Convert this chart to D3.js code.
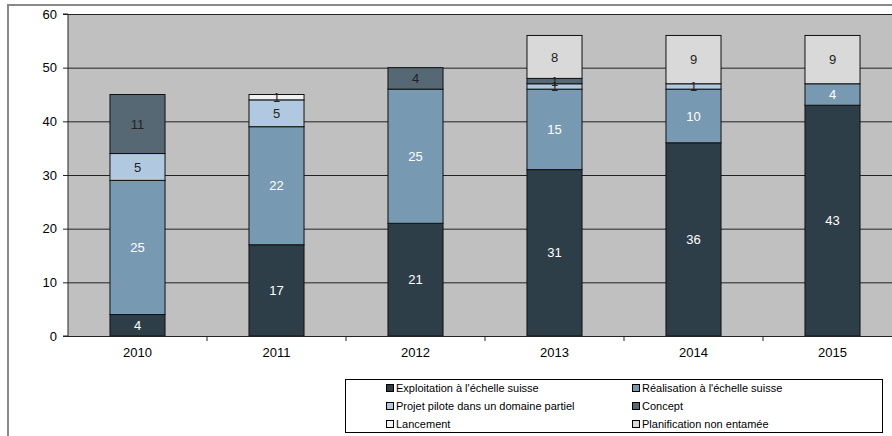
<!DOCTYPE html>
<html><head><meta charset="utf-8">
<script src="https://cdn.jsdelivr.net/npm/d3@7"></script>
<style>body{margin:0;background:#fff;}svg{display:block;font-family:"Liberation Sans",Arial,sans-serif;}</style>
</head><body>
<svg id="c" width="892" height="436"></svg>
<script>
const years = ["2010","2011","2012","2013","2014","2015"];
const seriesNames = ["Exploitation à l'échelle suisse","Réalisation à l'échelle suisse","Projet pilote dans un domaine partiel","Concept","Lancement","Planification non entamée"];
const exploitation = [4,17,21,31,36,43];
const realisation = [25,22,25,15,10,4];
const pilote = [5,5,0,1,1,0];
const concept = [11,0,4,1,0,0];
const lancement = [0,1,0,0,0,0];
const planification = [0,0,0,8,9,9];
const yTicks = [0,10,20,30,40,50,60];
const colors = ["#2e3e49","#7899b2","#b0c9e0","#566874","#f2f2f2","#d9d9d9"];
const labelColors = ["#fff","#fff","#222","#222","#222","#222"];

const svg = d3.select("#c");
// outer frame
svg.append("rect").attr("x",8).attr("y",5).attr("width",900).attr("height",440)
  .attr("fill","#fff").attr("stroke","#888").attr("stroke-width",2);

const pLeft=68, pTop=14, pBottom=336;
const x = d3.scaleBand().domain(years).range([pLeft,pLeft+139*6]).paddingInner(0.604).paddingOuter(0.302);
const y = d3.scaleLinear().domain([0,60]).range([pBottom,pTop]);

svg.append("rect").attr("x",pLeft).attr("y",pTop).attr("width",892-pLeft).attr("height",pBottom-pTop).attr("fill","#c0c0c0");
svg.append("g").selectAll("line").data(yTicks.slice(1)).join("line")
  .attr("x1",pLeft).attr("x2",892).attr("y1",d=>y(d)+0.5).attr("y2",d=>y(d)+0.5)
  .attr("stroke","#222").attr("stroke-width",1);

const rows = years.map((yr,i)=>({year:yr, v:[exploitation[i],realisation[i],pilote[i],concept[i],lancement[i],planification[i]]}));
const stackData = d3.stack().keys(d3.range(6)).value((d,k)=>d.v[k])(rows);

const g = svg.append("g");
stackData.forEach((layer,k)=>{
  layer.forEach((seg,i)=>{
    const val = seg[1]-seg[0];
    if(val<=0) return;
    const yr = years[i];
    g.append("rect").attr("x",x(yr)).attr("width",x.bandwidth())
      .attr("y",y(seg[1])).attr("height",y(seg[0])-y(seg[1]))
      .attr("fill",colors[k]).attr("stroke","#111").attr("stroke-width",1);
  });
});
stackData.forEach((layer,k)=>{
  layer.forEach((seg,i)=>{
    const val = seg[1]-seg[0];
    if(val<=0) return;
    const yr = years[i];
    g.append("text").attr("x",x(yr)+x.bandwidth()/2).attr("y",(y(seg[0])+y(seg[1]))/2)
      .attr("dy","0.36em").attr("text-anchor","middle").attr("font-size",13)
      .attr("fill",labelColors[k]).text(val);
  });
});

// y axis
const ya = svg.append("g").attr("transform",`translate(${pLeft},0)`)
  .call(d3.axisLeft(y).tickValues(yTicks).tickSize(5).tickPadding(6));
ya.selectAll("text").attr("font-size",13).attr("fill","#000").attr("font-family","Liberation Sans, Arial, sans-serif");
ya.selectAll("line,path").attr("stroke","#222");
ya.select(".domain").attr("d",`M-5,${pBottom}H0V${pTop}H-5`);

// x axis
const xa = svg.append("g").attr("transform",`translate(0,${pBottom})`);
xa.append("line").attr("x1",pLeft).attr("x2",892).attr("y1",0.5).attr("y2",0.5).attr("stroke","#222");
xa.selectAll(".tk").data(years.slice(1)).join("line").attr("class","tk")
  .attr("x1",d=>x(d)-x.step()*0.302).attr("x2",d=>x(d)-x.step()*0.302).attr("y1",0).attr("y2",5).attr("stroke","#222");
xa.selectAll(".lb").data(years).join("text").attr("class","lb")
  .attr("x",d=>x(d)+x.bandwidth()/2).attr("y",21).attr("text-anchor","middle")
  .attr("font-size",13).attr("fill","#000").text(d=>d);

// legend
const lg = svg.append("g");
lg.append("rect").attr("x",345.5).attr("y",379.5).attr("width",537).attr("height",53).attr("fill","#fff").attr("stroke","#000");
const colX=[386,632], rowY=[388,406,424];
seriesNames.forEach((n,k)=>{
  const cx = colX[k%2], cy=rowY[Math.floor(k/2)];
  lg.append("rect").attr("x",cx+0.5).attr("y",cy-3.5).attr("width",7).attr("height",7).attr("fill",colors[k]).attr("stroke","#000");
  lg.append("text").attr("x",cx+10).attr("y",cy).attr("dy","0.35em").attr("font-size",11).attr("fill","#000").text(n);
});
</script>
</body></html>
